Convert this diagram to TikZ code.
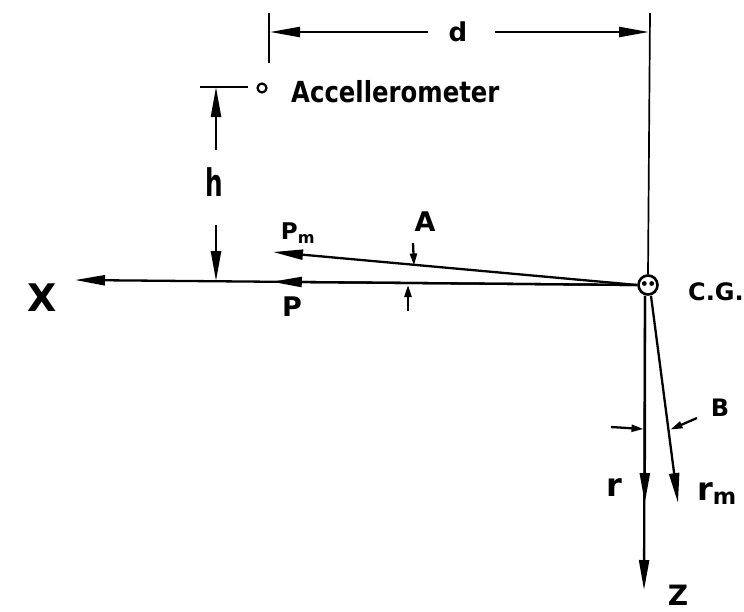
\documentclass[tikz,border=0pt]{standalone}
\usepackage{graphicx}
\usepackage{fontspec}
\setmainfont{DejaVu Sans}
\usetikzlibrary{arrows.meta,calc}
\begin{document}
\begin{tikzpicture}[x=1pt,y=-1pt,
  axis/.style={line width=2.3pt},
  thin/.style={line width=1.7pt},
  bighead/.style={axis,-{Triangle[length=30pt,width=10pt]}},
  smallhead/.style={axis,-{Triangle[length=12pt,width=7pt]}},
  lbl/.style={inner sep=0pt,font=\bfseries\fontsize{26}{26}\selectfont},
  fs/.style={font=\bfseries\fontsize{#1}{#1}\selectfont},
]
\useasboundingbox (0,0) rectangle (744,611);
% centre of gravity
\node[circle,draw,line width=2.6pt,minimum size=19pt,inner sep=0pt] (cg) at (648,285) {};
\fill (644.3,283.5) circle (2.4pt) (651.7,283.5) circle (2.4pt);
\node[lbl,fs=24,anchor=west] (cglbl) at (688,292) {C.G.};
% X axis and P
\coordinate (xt) at (75,280);
\coordinate (pt) at ($(cg.west)!0.65!(xt)$);
\draw[bighead] (cg.west) -- (xt);
\draw[bighead] (cg.west) -- (pt);
\node[lbl,fs=38] (xl) at (42,298) {X};
\node[lbl,fs=27] (pl) at (292,307) {P};
% Pm
\coordinate (pmt) at (273,252);
\draw[bighead] (cg.west) -- (pmt);
\node[lbl,fs=23] (pml) at (298,233) {P\textsubscript{m}};
% angle A
\node[lbl,fs=27] (al) at (425,222) {A};
\coordinate (a1s) at (413,243);
\coordinate (a1e) at (414,265.5);
\coordinate (a2s) at (408,311);
\coordinate (a2e) at (408,285);
\draw[smallhead] (a1s) -- (a1e);
\draw[smallhead] (a2s) -- (a2e);
% Z axis, r and rm
\coordinate (zs) at ($(cg.south)+(-3,0)$);
\coordinate (zt) at (644,590);
\coordinate (rt) at (644.8,503);
\draw[bighead] (zs) -- (zt);
\draw[bighead] (zs) -- (rt);
\coordinate (rms) at ($(cg.south)+(3,0)$);
\coordinate (rmt) at (678,503);
\draw[bighead] (rms) -- (rmt);
\node[lbl,fs=28] (zl) at (678,595) {Z};
\node[lbl,fs=32] (rl) at (614,488) {r};
\node[lbl,fs=32] (rml) at (717,494) {r\textsubscript{m}};
% angle B
\node[lbl,fs=24] (bl) at (720,408) {B};
\coordinate (b1s) at (611,427);
\coordinate (b1e) at (643.5,429);
\coordinate (b2s) at (697,418);
\coordinate (b2e) at (670.5,429.5);
\draw[smallhead] (b1s) -- (b1e);
\draw[smallhead] (b2s) -- (b2e);
% dimension d
\coordinate (vtop) at (650,13);
\draw[thin] (cg.north) -- (vtop);
\coordinate (lt) at (269,13);
\coordinate (lb) at (269,63);
\draw[thin] (lt) -- (lb);
\node[lbl,fs=26] (dl) at (458,32) {d};
\coordinate (dgl) at (428,32);
\coordinate (dgr) at (495,32);
\coordinate (dal) at (270,32);
\coordinate (dar) at (649,32);
\draw[bighead] (dgl) -- (dal);
\draw[bighead] (dgr) -- (dar);
% dimension h
\coordinate (tl) at (200,87);
\coordinate (tr) at (248,87);
\draw[axis] (tl) -- (tr);
\coordinate (hut) at (216,87);
\coordinate (hus) at (216,150);
\coordinate (hds) at (216,225);
\coordinate (hdt) at ($(cg.west)!0.7845!(xt)$);
\draw[bighead] (hus) -- (hut);
\draw[bighead] (hds) -- (hdt -| hds);
\node[lbl] (hl) at (214,182) {\scalebox{0.65}[1]{\fontsize{38}{38}\selectfont h}};
% accelerometer
\node[circle,draw,line width=2.2pt,minimum size=9pt,inner sep=0pt] (acc) at (262,88) {};
\node[lbl,anchor=west] (accl) at (291,92) {\scalebox{0.84}[1]{\fontsize{29}{29}\selectfont Accellerometer}};
\end{tikzpicture}
\end{document}
